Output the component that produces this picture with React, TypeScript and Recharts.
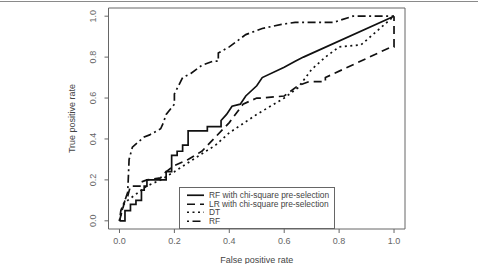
import React from 'react';
import { LineChart, Line, XAxis, YAxis, ReferenceArea } from 'recharts';

// ROC points: false positive rate / true positive rate
const rfChiFpr = [0, 0.02, 0.02, 0.04, 0.04, 0.06, 0.06, 0.08, 0.08, 0.09, 0.09, 0.1, 0.1, 0.17, 0.17, 0.19, 0.19, 0.21, 0.21, 0.23, 0.23, 0.25, 0.25, 0.32, 0.32, 0.37, 0.37, 0.39, 0.41, 0.44, 0.46, 0.5, 0.52, 0.6, 0.64, 0.67, 1];
const rfChiTpr = [0, 0, 0.05, 0.05, 0.08, 0.08, 0.1, 0.1, 0.15, 0.15, 0.17, 0.17, 0.2, 0.2, 0.24, 0.24, 0.32, 0.32, 0.34, 0.34, 0.37, 0.37, 0.44, 0.44, 0.46, 0.46, 0.49, 0.52, 0.56, 0.57, 0.61, 0.66, 0.7, 0.75, 0.78, 0.8, 1];

const lrChiFpr = [0, 0.01, 0.02, 0.03, 0.04, 0.08, 0.08, 0.1, 0.15, 0.16, 0.2, 0.25, 0.3, 0.35, 0.4, 0.45, 0.5, 0.52, 0.6, 0.65, 0.69, 0.75, 0.75, 0.99, 1, 1];
const lrChiTpr = [0, 0.05, 0.1, 0.12, 0.17, 0.17, 0.19, 0.2, 0.21, 0.23, 0.27, 0.3, 0.34, 0.41, 0.48, 0.57, 0.6, 0.6, 0.61, 0.66, 0.68, 0.68, 0.7, 0.85, 0.85, 1];

const dtFpr = [0, 0.015, 0.03, 0.06, 0.1, 0.15, 0.2, 0.28, 0.35, 0.4, 0.5, 0.6, 0.65, 0.7, 0.75, 0.8, 0.88, 1];
const dtTpr = [0, 0.08, 0.1, 0.13, 0.17, 0.2, 0.24, 0.31, 0.37, 0.43, 0.52, 0.6, 0.65, 0.74, 0.8, 0.85, 0.86, 1];

const rfFpr = [0, 0.005, 0.02, 0.03, 0.035, 0.047, 0.09, 0.11, 0.15, 0.16, 0.17, 0.2, 0.2, 0.23, 0.26, 0.3, 0.34, 0.36, 0.36, 0.4, 0.46, 0.52, 0.59, 0.64, 0.78, 0.85, 1];
const rfTpr = [0, 0.05, 0.1, 0.14, 0.3, 0.36, 0.41, 0.42, 0.45, 0.48, 0.52, 0.57, 0.62, 0.7, 0.72, 0.76, 0.78, 0.78, 0.82, 0.85, 0.91, 0.94, 0.96, 0.97, 0.97, 1, 1];

const ticks = [0, 0.2, 0.4, 0.6, 0.8, 1];

const zip = (xs: number[], ys: number[]) => xs.map((x, i) => ({ x, y: ys[i] }));

const series = [
  { name: 'RF with chi-square pre-selection', data: zip(rfChiFpr, rfChiTpr), dash: undefined },
  { name: 'LR with chi-square pre-selection', data: zip(lrChiFpr, lrChiTpr), dash: '8 5' },
  { name: 'DT', data: zip(dtFpr, dtTpr), dash: '2 3.5' },
  { name: 'RF', data: zip(rfFpr, rfTpr), dash: '2 3.5 8 3.5' },
];

const FONT = '"Liberation Sans", Arial, sans-serif';
const GREY = '#666';

const YTick = (props: any) => {
  const { x, y, payload } = props;
  return (
    <text x={x} y={y} transform={`rotate(-90 ${x} ${y})`} textAnchor="middle" dominantBaseline="central"
      fontSize={9} fill={GREY} fontFamily={FONT}>
      {payload.value.toFixed(1)}
    </text>
  );
};

export default function App() {
  return (
    <div style={{ position: 'absolute', left: 0, top: 0, width: 478, height: 264, background: '#fff', fontFamily: FONT }}>
      <div style={{ position: 'absolute', left: 0, top: 1, width: 478, height: 1, background: '#8a8a8a' }} />
      <LineChart width={478} height={264} margin={{ top: 8, right: 73, bottom: 0, left: 0 }}>
        <XAxis type="number" dataKey="x" domain={[-0.04, 1.04]} ticks={ticks} allowDataOverflow
          height={35} axisLine={false} tickSize={4} tickMargin={5}
          tickLine={{ stroke: GREY }} tick={{ fontSize: 9, fill: GREY, fontFamily: FONT }}
          tickFormatter={(v: number) => v.toFixed(1)}
          label={{
            content: (p: any) => (
              <text x={p.viewBox.x + p.viewBox.width / 2} y={p.viewBox.y + 31} textAnchor="middle"
                dominantBaseline="central" fontSize={9} fill="#444" fontFamily={FONT}>False positive rate</text>
            ),
          }} />
        <YAxis type="number" dataKey="y" domain={[-0.04, 1.04]} ticks={ticks} allowDataOverflow
          width={108.5} axisLine={false} tickSize={4} tickMargin={11}
          tickLine={{ stroke: GREY }} tick={<YTick />}
          label={{
            content: (p: any) => {
              const cx = p.viewBox.x + 72;
              const cy = p.viewBox.y + p.viewBox.height / 2;
              return (
                <text x={cx} y={cy} transform={`rotate(-90 ${cx} ${cy})`} textAnchor="middle"
                  dominantBaseline="central" fontSize={9} fill="#444" fontFamily={FONT}>True positive rate</text>
              );
            },
          }} />
        <ReferenceArea x1={-0.04} x2={1.04} y1={-0.04} y2={1.04} fill="none" stroke={GREY} strokeWidth={1} ifOverflow="visible" />
        {series.map((s) => (
          <Line key={s.name} data={s.data} dataKey="y" name={s.name} type="linear" stroke="#111"
            strokeWidth={1.7} strokeDasharray={s.dash} dot={false} activeDot={false} isAnimationActive={false} />
        ))}
      </LineChart>
      <div style={{ position: 'absolute', left: 179, top: 187, width: 156, height: 42, boxSizing: 'border-box',
        border: `1px solid ${GREY}`, background: '#fff', paddingTop: 3 }}>
        {series.map((s) => (
          <div key={s.name} style={{ height: 8.5, display: 'flex', alignItems: 'center' }}>
            <svg width={29} height={8.5} style={{ flex: 'none' }}>
              <line x1={7} x2={24} y1={4.25} y2={4.25} stroke="#111" strokeWidth={1.7} strokeDasharray={s.dash} />
            </svg>
            <span style={{ fontSize: 8.4, color: '#444', lineHeight: '8.5px', whiteSpace: 'nowrap' }}>{s.name}</span>
          </div>
        ))}
      </div>
    </div>
  );
}
